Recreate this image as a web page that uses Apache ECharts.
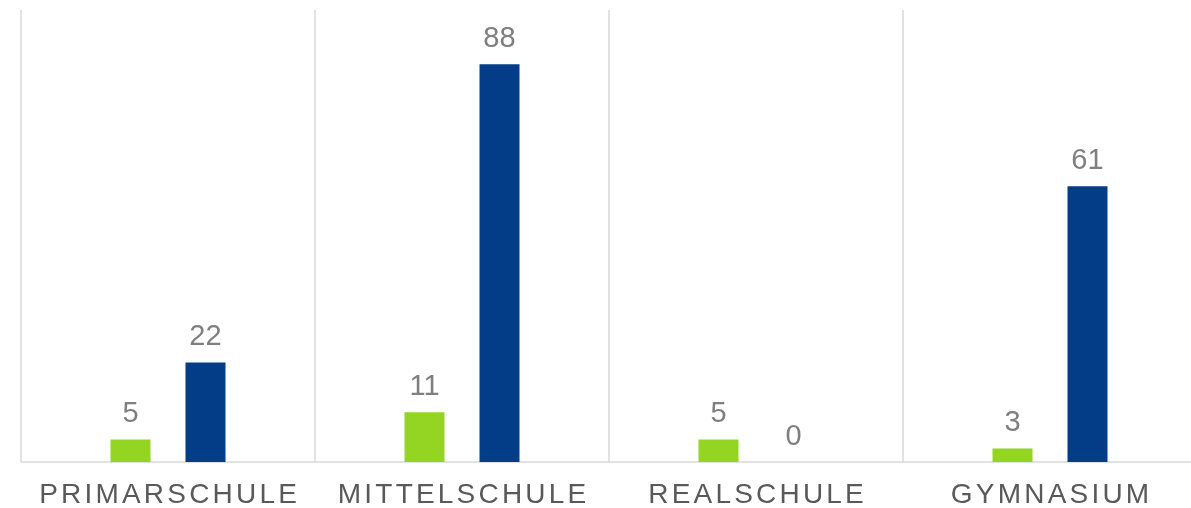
<!DOCTYPE html>
<html>
<head>
<meta charset="utf-8">
<script src="https://cdn.jsdelivr.net/npm/echarts@6/dist/echarts.min.js"></script>
<style>
html,body{margin:0;padding:0;background:#fff;}
#chart{width:1191px;height:508px;}
</style>
</head>
<body>
<div id="chart"></div>
<script>
const categories = ['PRIMARSCHULE', 'MITTELSCHULE', 'REALSCHULE', 'GYMNASIUM'];
const seriesGreen = [5, 11, 5, 3];
const seriesBlue = [22, 88, 0, 61];

const chart = echarts.init(document.getElementById('chart'));
const spaced = s => s.split('').map(c => '{c|' + c + '}').join('');
const FONT = 'Liberation Sans, Arial, sans-serif';
chart.setOption({
  animation: false,
  grid: { left: 21, top: 10, bottom: 46, right: -6, containLabel: false, outerBoundsMode: 'none' },
  xAxis: {
    type: 'category',
    data: categories,
    boundaryGap: true,
    axisLine: { show: true, lineStyle: { color: '#d9d9d9', width: 1.5 } },
    axisTick: { show: false },
    splitLine: { show: true, lineStyle: { color: '#d9d9d9', width: 1.5 } },
    axisLabel: {
      color: '#595959',
      fontSize: 28,
      fontFamily: FONT,
      margin: 19,
      interval: 0,
      hideOverlap: false,
      formatter: v => spaced(v),
      rich: {
        c: { color: '#595959', fontSize: 28, fontFamily: FONT, padding: [0, 1.6, 0, 1.6] }
      }
    }
  },
  yAxis: {
    type: 'value',
    min: 0, max: 100,
    show: false,
    splitLine: { show: false }
  },
  series: [
    {
      type: 'bar', data: seriesGreen, barWidth: 40, barGap: '87.5%',
      itemStyle: { color: '#93d522' },
      label: { show: true, position: 'top', distance: 11, color: '#7f7f7f', fontSize: 29, fontFamily: FONT }
    },
    {
      type: 'bar', data: seriesBlue, barWidth: 40,
      itemStyle: { color: '#033c87' },
      label: { show: true, position: 'top', distance: 11, color: '#7f7f7f', fontSize: 29, fontFamily: FONT }
    }
  ]
});
</script>
</body>
</html>
